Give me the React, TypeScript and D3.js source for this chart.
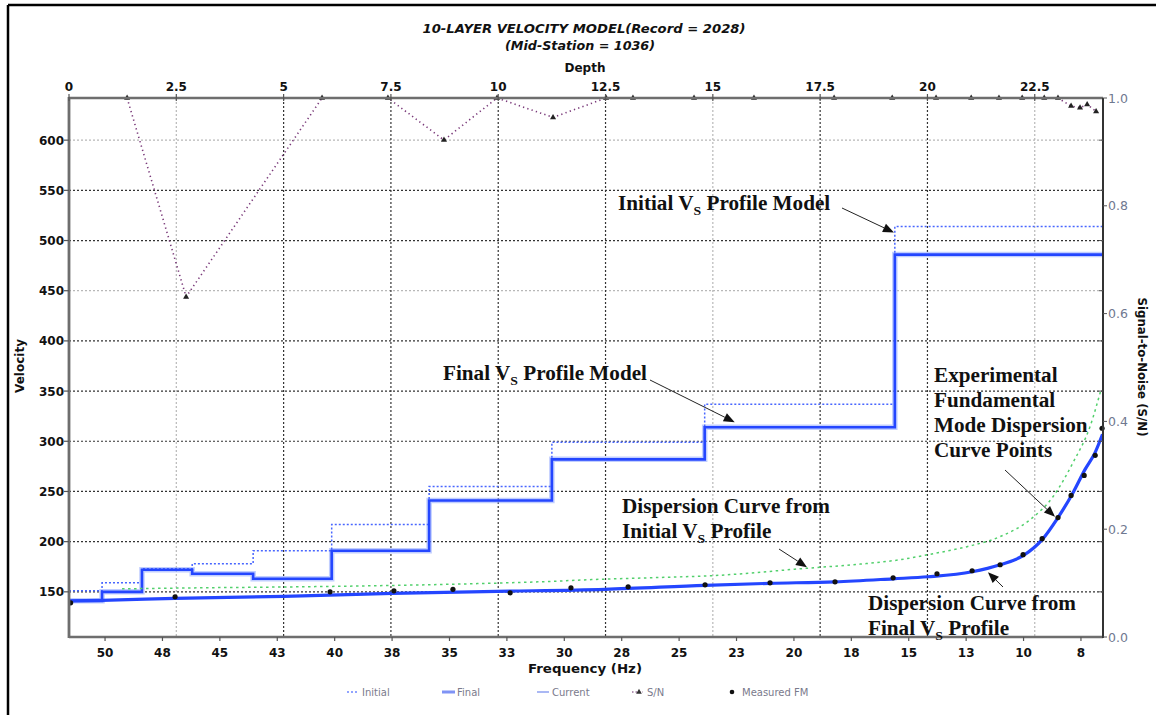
import React from 'react'
import * as d3 from 'd3'

// layered Vs profiles, drawn against the top Depth axis
const layerTopDepth = [0, 0.77, 1.7, 2.87, 4.29, 6.12, 8.39, 11.25, 14.81, 19.24]
const initialVs = [151, 159, 173, 178, 191, 217, 255, 299, 337, 514]
const finalVs = [141, 150, 172, 168, 163, 191, 241, 282, 314, 486]
const currentVs = [141, 150, 172, 168, 163, 191, 241, 282, 314, 486]

// dispersion curves, drawn against the bottom Frequency axis
const finalCurveFreq = [51.57, 50.13, 46.95, 42.21, 37.5, 32.93, 28.23, 23.87, 21.04, 18.21, 15.68, 14.16, 12.24, 11.02, 10.02, 9.19, 8.5, 7.84, 7.32, 6.88, 6.56]
const finalCurveVel = [141, 141.5, 143.5, 145.5, 148.5, 150.5, 152.5, 156.5, 158.5, 160, 163, 165, 170, 177, 186, 202, 224, 249, 272, 289, 307]
const initialCurveFreq = [49.26, 45.87, 41.51, 37.15, 34.1, 31.06, 28.44, 25.53, 23.65, 19.43, 17.42, 15.38, 13.94, 12.46, 11.02, 9.71, 8.71, 7.84, 7.1, 6.62]
const initialCurveVel = [153, 154, 155, 156.5, 158, 160, 162.5, 164.5, 166, 173.5, 177, 182, 188, 195, 205, 222, 245, 279, 315, 352]

// measured fundamental mode points
const measuredFreq = [51.5, 46.95, 40.2, 37.42, 34.85, 32.36, 29.71, 27.22, 23.87, 21.04, 18.21, 15.68, 13.77, 12.24, 11.02, 10.02, 9.19, 8.5, 7.93, 7.36, 6.88, 6.58]
const measuredVel = [139, 145, 150, 151, 152.5, 149, 154, 155, 157, 159, 160, 164, 168, 171, 177, 187, 203, 224, 246, 266, 286, 313]

// signal-to-noise, right axis
const snFreq = [49.04, 46.47, 40.55, 37.68, 35.24, 32.93, 30.49, 28.18, 27.01, 24.35, 21.74, 18.25, 15.72, 13.81, 12.28, 11.07, 10.06, 9.1, 8.5, 7.93, 7.54, 7.23, 6.84]
const snValue = [1, 0.631, 1, 1, 0.922, 1, 0.964, 1, 1, 1, 1, 1, 1, 1, 1, 1, 1, 1, 1, 0.985, 0.982, 0.988, 0.975]

// ticks
const velocityTicks = [150, 200, 250, 300, 350, 400, 450, 500, 550, 600]
const lightVelocityGrid = [450, 600]
const depthTicks = [0, 2.5, 5, 7.5, 10, 12.5, 15, 17.5, 20, 22.5]
const lightDepthGrid = [2.5, 15, 22.5]
const freqTicks = [50, 47.5, 45, 42.5, 40, 37.5, 35, 32.5, 30, 27.5, 25, 22.5, 20, 17.5, 15, 12.5, 10, 7.5]
const freqTickLabels = ['50', '48', '45', '43', '40', '38', '35', '33', '30', '28', '25', '23', '20', '18', '15', '13', '10', '8']
const snTicks = [0, 0.2, 0.4, 0.6, 0.8, 1.0]

const W = 1156
const H = 715
const plot = { left: 69, right: 1103, top: 98, bottom: 637 }

const SANS = '"DejaVu Sans", Arial, sans-serif'
const SERIF = '"Liberation Serif", "Times New Roman", serif'

const BLUE = '#2446ff'

type Seg = { t: string; sub?: boolean }

const Note = ({ x, y, lines }: { x: number; y: number; lines: Seg[][] }) => (
  <g transform={`translate(${x},${y}) scale(1.06,1)`}>
    {lines.map((segs, i) => (
      <text key={i} x={0} y={i * 25} fontFamily={SERIF} fontWeight="bold" fontSize={20} fill="#111">
        {segs.map((s, j) =>
          s.sub ? (
            <tspan key={j} fontSize={13} dy={5}>{s.t}</tspan>
          ) : (
            <tspan key={j} dy={j > 0 && segs[j - 1].sub ? -5 : 0}>{s.t}</tspan>
          )
        )}
      </text>
    ))}
  </g>
)

const Arrow = ({ x1, y1, x2, y2 }: { x1: number; y1: number; x2: number; y2: number }) => {
  const a = Math.atan2(y2 - y1, x2 - x1)
  const len = 11
  const hw = 4.5
  const bx = x2 - len * Math.cos(a)
  const by = y2 - len * Math.sin(a)
  const px = -Math.sin(a) * hw
  const py = Math.cos(a) * hw
  return (
    <g>
      <line x1={x1} y1={y1} x2={bx} y2={by} stroke="#222" strokeWidth={1} />
      <path d={`M${x2},${y2}L${bx + px},${by + py}L${bx - px},${by - py}Z`} fill="#111" />
    </g>
  )
}

export default function App() {
  const xDepth = d3.scaleLinear().domain([0, 24.09]).range([plot.left, plot.right])
  const xFreq = d3.scaleLinear().domain([51.57, 6.54]).range([plot.left, plot.right])
  const yVel = d3.scaleLinear().domain([105, 642]).range([plot.bottom, plot.top])
  const ySN = d3.scaleLinear().domain([0, 1]).range([plot.bottom, plot.top])

  const depthEnd = xDepth.domain()[1]
  const profile = (vs: number[]) => {
    const pts: [number, number][] = layerTopDepth.map((d, i) => [d, vs[i]])
    pts.push([depthEnd, vs[vs.length - 1]])
    return d3.line<[number, number]>()
      .x(p => xDepth(p[0]))
      .y(p => yVel(p[1]))
      .curve(d3.curveStepAfter)(pts) || ''
  }

  const freqLine = (fs: number[], vs: number[], y: (v: number) => number, curve = d3.curveMonotoneX) =>
    d3.line<number>()
      .x(i => xFreq(fs[i]))
      .y(i => y(vs[i]))
      .curve(curve)(d3.range(fs.length)) || ''

  const triangle = d3.symbol().type(d3.symbolTriangle).size(16)()

  // arrow heads in data space
  const arrows = [
    { x1: 842, y1: 208, x2: xDepth(19.22), y2: yVel(508) },
    { x1: 650, y1: 380, x2: xDepth(15.51), y2: yVel(319) },
    { x1: 779, y1: 549, x2: xFreq(19.43), y2: yVel(174.6) },
    { x1: 1003, y1: 587, x2: xFreq(11.55), y2: yVel(169.6) },
    { x1: 1005, y1: 470, x2: xFreq(8.63), y2: yVel(224.7) },
  ]

  const legendY = 692

  return (
    <svg width={W} height={H} style={{ position: 'absolute', left: 0, top: 0, background: '#fff' }}>
      <rect x={0} y={0} width={W} height={H} fill="#fff" />
      {/* outer frame */}
      <line x1={8} y1={5} x2={W} y2={5} stroke="#000" strokeWidth={2.5} />
      <line x1={8} y1={5} x2={8} y2={H} stroke="#000" strokeWidth={2.5} />

      {/* title */}
      <text x={584} y={33} textAnchor="middle" fontFamily={SANS} fontWeight="bold" fontStyle="italic" fontSize={12.5}
        textLength={323} lengthAdjust="spacingAndGlyphs" fill="#111">
        10-LAYER VELOCITY MODEL(Record = 2028)
      </text>
      <text x={580} y={50} textAnchor="middle" fontFamily={SANS} fontWeight="bold" fontStyle="italic" fontSize={12.5}
        textLength={150} lengthAdjust="spacingAndGlyphs" fill="#111">
        (Mid-Station = 1036)
      </text>

      {/* grid */}
      {velocityTicks.map(v => {
        const light = lightVelocityGrid.includes(v)
        return (
          <line key={'hv' + v} x1={plot.left} x2={plot.right} y1={yVel(v)} y2={yVel(v)}
            stroke={light ? '#b8b8b8' : '#333'} strokeWidth={1.2} strokeDasharray="2,2" />
        )
      })}
      {depthTicks.filter(d => d > 0).map(d => {
        const light = lightDepthGrid.includes(d)
        return (
          <line key={'vd' + d} x1={xDepth(d)} x2={xDepth(d)} y1={plot.top} y2={plot.bottom}
            stroke={light ? '#b8b8b8' : '#333'} strokeWidth={1.2} strokeDasharray="2,2" />
        )
      })}

      {/* S/N */}
      <path d={freqLine(snFreq, snValue, ySN, d3.curveLinear)} fill="none" stroke="#7a3a7a" strokeWidth={1.6} strokeDasharray="1.3,3.2" />
      {snFreq.map((f, i) => (
        <path key={'sn' + i} d={triangle} transform={`translate(${xFreq(f)},${ySN(snValue[i])})`} fill="#222" />
      ))}

      {/* Vs profiles */}
      <path d={profile(currentVs)} fill="none" stroke="#8ea6ff" strokeOpacity={0.55} strokeWidth={5.5} />
      <path d={profile(initialVs)} fill="none" stroke="#4866ff" strokeWidth={1.5} strokeDasharray="2,2" />
      <path d={profile(finalVs)} fill="none" stroke={BLUE} strokeWidth={2.6} />

      {/* dispersion curves */}
      <path d={freqLine(initialCurveFreq, initialCurveVel, yVel)} fill="none" stroke="#52d06c" strokeWidth={1.5} strokeDasharray="2.5,3.5" />
      <path d={freqLine(finalCurveFreq, finalCurveVel, yVel)} fill="none" stroke={BLUE} strokeWidth={3.2} />
      {measuredFreq.map((f, i) => (
        <circle key={'m' + i} cx={xFreq(f)} cy={yVel(measuredVel[i])} r={2.6} fill="#111" />
      ))}

      {/* axes */}
      <line x1={plot.left} x2={plot.right} y1={plot.top} y2={plot.top} stroke="#6e6e6e" strokeWidth={2.6} />
      <line x1={plot.left} x2={plot.right} y1={plot.bottom} y2={plot.bottom} stroke="#6e6e6e" strokeWidth={2.6} />
      <line x1={plot.left} x2={plot.left} y1={plot.top - 1} y2={plot.bottom + 1} stroke="#6e6e6e" strokeWidth={2.8} />
      <line x1={plot.right} x2={plot.right} y1={plot.top} y2={plot.bottom + 1} stroke="#333" strokeWidth={2} />

      {/* left axis */}
      {velocityTicks.map(v => (
        <g key={'lt' + v}>
          <line x1={plot.left - 5} x2={plot.left} y1={yVel(v)} y2={yVel(v)} stroke="#555" strokeWidth={1.2} />
          <line x1={plot.right - 4} x2={plot.right} y1={yVel(v)} y2={yVel(v)} stroke="#555" strokeWidth={1} />
          <text x={plot.left - 5} y={yVel(v) + 4.5} textAnchor="end" fontFamily={SANS} fontWeight="bold" fontSize={12} fill="#111">{v}</text>
        </g>
      ))}
      <text transform={`translate(24,366) rotate(-90)`} textAnchor="middle" fontFamily={SANS} fontWeight="bold" fontSize={12} fill="#111">Velocity</text>

      {/* top depth axis */}
      {depthTicks.map((d, i) => (
        <g key={'dt' + d}>
          <line x1={xDepth(d)} x2={xDepth(d)} y1={plot.top - 4} y2={plot.top + 3} stroke="#555" strokeWidth={1.2} />
          <text x={xDepth(d)} y={91} textAnchor="middle" fontFamily={SANS} fontWeight="bold" fontSize={12} fill="#111">{d3.format('~g')(depthTicks[i])}</text>
        </g>
      ))}
      <text x={585} y={72} textAnchor="middle" fontFamily={SANS} fontWeight="bold" fontSize={12} fill="#111">Depth</text>

      {/* bottom frequency axis */}
      {freqTicks.map((f, i) => (
        <g key={'ft' + f}>
          <line x1={xFreq(f)} x2={xFreq(f)} y1={plot.bottom} y2={plot.bottom + 4} stroke="#555" strokeWidth={1.2} />
          <text x={xFreq(f)} y={656.5} textAnchor="middle" fontFamily={SANS} fontWeight="bold" fontSize={12} fill="#111">{freqTickLabels[i]}</text>
        </g>
      ))}
      <text x={585} y={673} textAnchor="middle" fontFamily={SANS} fontWeight="bold" fontSize={12}
        textLength={114} lengthAdjust="spacingAndGlyphs" fill="#111">Frequency (Hz)</text>

      {/* right S/N axis */}
      {snTicks.map(s => (
        <g key={'st' + s}>
          <line x1={plot.right} x2={plot.right + 4} y1={ySN(s)} y2={ySN(s)} stroke="#555" strokeWidth={1} />
          <text x={plot.right + 5} y={ySN(s) + 4.5} fontFamily={SANS} fontSize={12.5} fill="#6f7890">{d3.format('.1f')(s)}</text>
        </g>
      ))}
      <text transform={`translate(1138,367) rotate(90)`} textAnchor="middle" fontFamily={SANS} fontWeight="bold" fontSize={12}
        textLength={139} lengthAdjust="spacingAndGlyphs" fill="#111">Signal-to-Noise (S/N)</text>

      {/* annotations */}
      <Note x={618} y={210} lines={[[{ t: 'Initial V' }, { t: 'S', sub: true }, { t: ' Profile Model' }]]} />
      <Note x={443} y={380} lines={[[{ t: 'Final V' }, { t: 'S', sub: true }, { t: ' Profile Model' }]]} />
      <Note x={934} y={382} lines={[[{ t: 'Experimental' }], [{ t: 'Fundamental' }], [{ t: 'Mode Dispersion' }], [{ t: 'Curve Points' }]]} />
      <Note x={622} y={513} lines={[[{ t: 'Dispersion Curve from' }], [{ t: 'Initial V' }, { t: 'S', sub: true }, { t: ' Profile' }]]} />
      <Note x={868} y={610} lines={[[{ t: 'Dispersion Curve from' }], [{ t: 'Final V' }, { t: 'S', sub: true }, { t: ' Profile' }]]} />
      {arrows.map((a, i) => <Arrow key={'a' + i} {...a} />)}

      {/* legend */}
      <g fontFamily={SANS} fontSize={10} fill="#7a7a8c">
        <line x1={347} x2={359} y1={legendY} y2={legendY} stroke="#6d86ff" strokeWidth={1.5} strokeDasharray="2,2" />
        <text x={362} y={legendY + 3.5}>Initial</text>
        <line x1={442} x2={455} y1={legendY} y2={legendY} stroke="#7f93f5" strokeWidth={3} />
        <text x={457} y={legendY + 3.5}>Final</text>
        <line x1={537} x2={549} y1={legendY} y2={legendY} stroke="#8ea0f0" strokeWidth={1.5} />
        <text x={552} y={legendY + 3.5}>Current</text>
        <line x1={632} x2={643} y1={legendY} y2={legendY} stroke="#6a2c6a" strokeWidth={1.2} strokeDasharray="1.5,2" />
        <path d={d3.symbol().type(d3.symbolTriangle).size(14)() || ''} transform={`translate(639,${legendY})`} fill="#333" />
        <text x={647} y={legendY + 3.5}>S/N</text>
        <circle cx={732} cy={legendY} r={2.3} fill="#111" />
        <text x={742} y={legendY + 3.5}>Measured FM</text>
      </g>
    </svg>
  )
}
